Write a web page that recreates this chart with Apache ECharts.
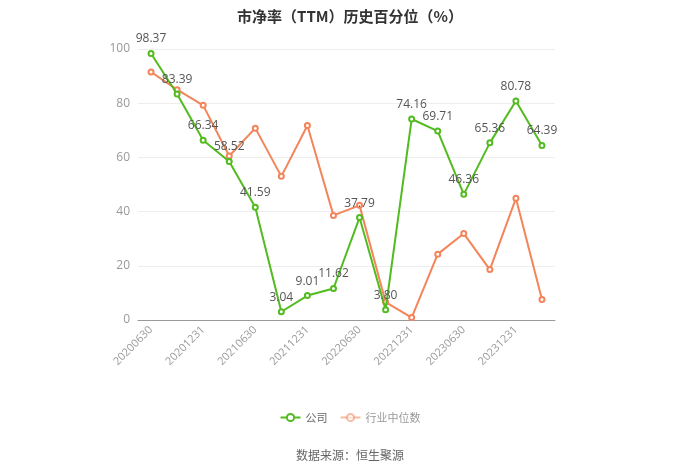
<!DOCTYPE html>
<html>
<head>
<meta charset="utf-8">
<script src="https://cdn.jsdelivr.net/npm/echarts@6/dist/echarts.min.js"></script>
<style>html,body{margin:0;padding:0;background:#fff}#c{width:700px;height:473px}</style>
</head>
<body>
<div id="c"></div>
<script>
const categories = ['20200630','20200930','20201231','20210331','20210630','20210930','20211231','20220331','20220630','20220930','20221231','20230331','20230630','20230930','20231231','20240331'];
const companyValues = [98.37,83.39,66.34,58.52,41.59,3.04,9.01,11.62,37.79,3.80,74.16,69.71,46.36,65.36,80.78,64.39];
const industryValues = [91.5,85.0,79.2,60.5,70.8,53.0,71.8,38.6,42.3,6.6,0.9,24.3,31.9,18.6,44.9,7.6];
const yTicks = [0,20,40,60,80,100];

const chart = echarts.init(document.getElementById('c'));
chart.setOption({
  backgroundColor: '#fff',
  title: {
    text: '市净率（TTM）历史百分位（%）',
    left: 'center', top: 4,
    textStyle: {fontSize: 15, fontWeight: 'bold', color: '#333', fontFamily: 'Noto Sans CJK SC'}
  },
  legend: {
    top: 407, left: 'center',
    itemWidth: 20, itemHeight: 9, itemGap: 12,
    textStyle: {color: '#666', fontSize: 11, fontFamily: 'Noto Sans CJK SC'},
    data: [
      {name: '公司'},
      {name: '行业中位数', itemStyle: {opacity: 0.55}, lineStyle: {opacity: 0.55}, textStyle: {color: '#999'}}
    ]
  },
  graphic: [{
    type: 'text', left: 'center', top: 449,
    style: {text: '数据来源：恒生聚源', fill: '#666', fontSize: 12, fontFamily: 'Noto Sans CJK SC'}
  }],
  grid: {left: 138, right: 145, top: 49, bottom: 153, containLabel: false},
  xAxis: {
    type: 'category', data: categories, boundaryGap: true,
    axisLine: {lineStyle: {color: '#999'}},
    axisTick: {alignWithLabel: true, interval: 1, lineStyle: {color: '#999'}},
    axisLabel: {interval: 1, rotate: 45, color: '#999', fontSize: 11, fontFamily: 'Open Sans'}
  },
  yAxis: {
    type: 'value', min: yTicks[0], max: yTicks[yTicks.length-1], interval: 20,
    axisLine: {show: false}, axisTick: {show: false},
    axisLabel: {color: '#999', fontSize: 12, fontFamily: 'Open Sans'},
    splitLine: {lineStyle: {color: '#eee'}}
  },
  series: [
    {
      name: '公司', type: 'line', data: companyValues,
      symbol: 'emptyCircle', symbolSize: 5,
      itemStyle: {color: '#52bb1f'}, lineStyle: {color: '#52bb1f', width: 2},
      label: {show: true, position: 'top', color: '#555', fontSize: 12, fontFamily: 'Open Sans',
        formatter: p => p.value.toFixed(2)},
      z: 3
    },
    {
      name: '行业中位数', type: 'line', data: industryValues,
      symbol: 'emptyCircle', symbolSize: 5,
      itemStyle: {color: '#f4845a'}, lineStyle: {color: '#f4845a', width: 2},
      z: 2
    }
  ]
});
</script>
</body>
</html>
